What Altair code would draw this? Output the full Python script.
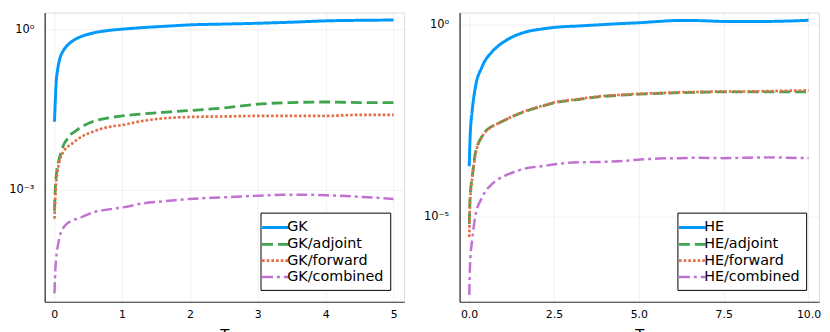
import altair as alt
import pandas as pd

# ---------------- data (log10 of the value) ----------------
gk_T = [0.005, 0.02, 0.03, 0.044, 0.069, 0.093, 0.118, 0.14, 0.19, 0.24, 0.31, 0.34, 0.58,
        0.83, 1.0, 1.32, 1.65, 2.0, 2.5, 3.0, 3.5, 4.0, 4.5, 5.0]
gk_names = ["GK", "GK/adjoint", "GK/forward", "GK/combined"]
gk_main = [-1.73, -1.25, -0.98, -0.82, -0.63, -0.51, -0.44, -0.39, -0.31, -0.25, -0.19, -0.17,
           -0.07, -0.02, 0.0, 0.03, 0.055, 0.08, 0.095, 0.11, 0.13, 0.155, 0.165, 0.17]
gk_adjoint = [-3.39, -2.89, -2.75, -2.59, -2.45, -2.34, -2.24, -2.16, -2.06, -1.97, -1.91, -1.88,
              -1.72, -1.65, -1.62, -1.58, -1.55, -1.52, -1.47, -1.40, -1.37, -1.36, -1.37, -1.37]
gk_forward = [-3.54, -3.05, -2.85, -2.70, -2.52, -2.40, -2.33, -2.28, -2.20, -2.16, -2.09, -2.06,
              -1.91, -1.82, -1.79, -1.71, -1.66, -1.64, -1.63, -1.62, -1.62, -1.62, -1.60, -1.60]
gk_combined = [-4.93, -4.44, -4.28, -4.13, -3.95, -3.82, -3.75, -3.70, -3.63, -3.59, -3.55, -3.54,
               -3.42, -3.36, -3.33, -3.25, -3.21, -3.17, -3.14, -3.11, -3.09, -3.10, -3.13, -3.17]

he_T = [0.005, 0.03, 0.09, 0.18, 0.38, 0.67, 0.86, 1.16, 1.65, 2.13, 2.6, 3.2, 3.8, 4.4,
        5.0, 5.6, 6.2, 6.8, 7.5, 8.1, 8.8, 9.4, 10.0]
he_names = ["HE", "HE/adjoint", "HE/forward", "HE/combined"]
he_main = [-3.69, -2.95, -2.26, -1.66, -1.10, -0.71, -0.55, -0.37, -0.19, -0.11, -0.06, -0.03,
           0.0, 0.03, 0.055, 0.09, 0.115, 0.11, 0.09, 0.09, 0.09, 0.10, 0.12]
he_adjoint = [-5.20, -4.51, -3.99, -3.38, -2.91, -2.65, -2.57, -2.44, -2.26, -2.13, -2.02, -1.95,
              -1.88, -1.84, -1.81, -1.79, -1.77, -1.76, -1.75, -1.75, -1.75, -1.75, -1.75]
he_forward = [-5.54, -4.60, -4.05, -3.42, -2.93, -2.66, -2.57, -2.44, -2.25, -2.12, -2.01, -1.94,
              -1.87, -1.83, -1.80, -1.78, -1.76, -1.75, -1.74, -1.74, -1.73, -1.72, -1.71]
he_combined = [-7.05, -6.23, -5.63, -5.02, -4.51, -4.16, -4.03, -3.90, -3.75, -3.69, -3.63, -3.59,
               -3.58, -3.56, -3.52, -3.49, -3.48, -3.47, -3.48, -3.47, -3.46, -3.47, -3.48]

gk_xticks = [0, 1, 2, 3, 4, 5]
he_xticks = [0.0, 2.5, 5.0, 7.5, 10.0]

colors = ["#009AFA", "#3EA44E", "#E36F47", "#C271D2"]
dashes = [[1, 0], [11, 5], [2.7, 2], [11, 4, 3, 4]]
widths = [3, 2.5, 2.5, 2.5]


def panel(T, names, series, xdom, ydom, xticks, xfmt, yticks, ylabel_expr, lx, ly):
    rows = []
    for name, vals in zip(names, series):
        for t, e in zip(T, vals):
            rows.append({"T": t, "e": e, "series": name})
    df = pd.DataFrame(rows)
    return (
        alt.Chart(df)
        .transform_calculate(v="pow(10, datum.e)")
        .mark_line(interpolate="monotone", clip=True)
        .encode(
            x=alt.X("T:Q", title="T",
                    scale=alt.Scale(domain=xdom, nice=False, zero=False),
                    axis=alt.Axis(values=xticks, format=xfmt, ticks=False, tickSize=0,
                                  labelPadding=7, labelFontSize=11, labelColor="#000",
                                  labelFont="DejaVu Sans", titleFont="DejaVu Sans",
                                  titleFontSize=15, titleFontWeight="normal",
                                  titlePadding=7, titleColor="#000",
                                  domainColor="#333", domainWidth=1,
                                  grid=True, gridColor="#000", gridOpacity=0.08,
                                  gridWidth=0.8)),
            y=alt.Y("v:Q", title=None,
                    scale=alt.Scale(type="log", domain=ydom, nice=False),
                    axis=alt.Axis(values=yticks, labelExpr=ylabel_expr, ticks=False,
                                  tickSize=0, labelPadding=11, labelFontSize=11.5,
                                  labelColor="#000", labelFont="DejaVu Sans",
                                  minExtent=34, maxExtent=34,
                                  domainColor="#000", domainWidth=1,
                                  grid=True, gridColor="#000", gridOpacity=0.08,
                                  gridWidth=0.8)),
            color=alt.Color("series:N",
                            scale=alt.Scale(domain=names, range=colors),
                            sort=names,
                            legend=alt.Legend(
                                title=None, orient="none", legendX=lx, legendY=ly,
                                direction="vertical",
                                strokeColor="#000", fillColor="#fff",
                                padding=6, labelFontSize=14.5, labelFont="DejaVu Sans",
                                labelColor="#000", labelOffset=3, rowPadding=1.5,
                                symbolType="M-1.9,0H1.9", symbolSize=200,
                                symbolStrokeWidth=3, labelLimit=200)),
            strokeDash=alt.StrokeDash("series:N",
                                      scale=alt.Scale(domain=names, range=dashes),
                                      sort=names, legend=None),
            strokeWidth=alt.StrokeWidth("series:N",
                                        scale=alt.Scale(domain=names, range=widths),
                                        legend=None),
            order=alt.Order("T:Q"),
        )
        .properties(width=363, height=292)
    )


left = panel(gk_T, gk_names, [gk_main, gk_adjoint, gk_forward, gk_combined],
             [-0.14, 5.155], [10 ** -5.09, 10 ** 0.309], gk_xticks, "d", [1, 1e-3],
             "datum.value > 0.5 ? '10⁰' : '10⁻³'", 218, 202)
right = panel(he_T, he_names, [he_main, he_adjoint, he_forward, he_combined],
              [-0.28, 10.31], [10 ** -7.23, 10 ** 0.32], he_xticks, ".1f", [1, 1e-5],
              "datum.value > 0.5 ? '10⁰' : '10⁻⁵'", 220, 202)

chart = (
    alt.hconcat(left, right, spacing=18)
    .resolve_scale(color="independent", strokeDash="independent", strokeWidth="independent")
    .properties(padding={"left": 0, "top": 2, "right": 0, "bottom": 0})
    .configure_view(stroke=None)
    .configure(background="#ffffff")
)

chart.save("out.html", embed_options={"renderer": "svg", "actions": False})
